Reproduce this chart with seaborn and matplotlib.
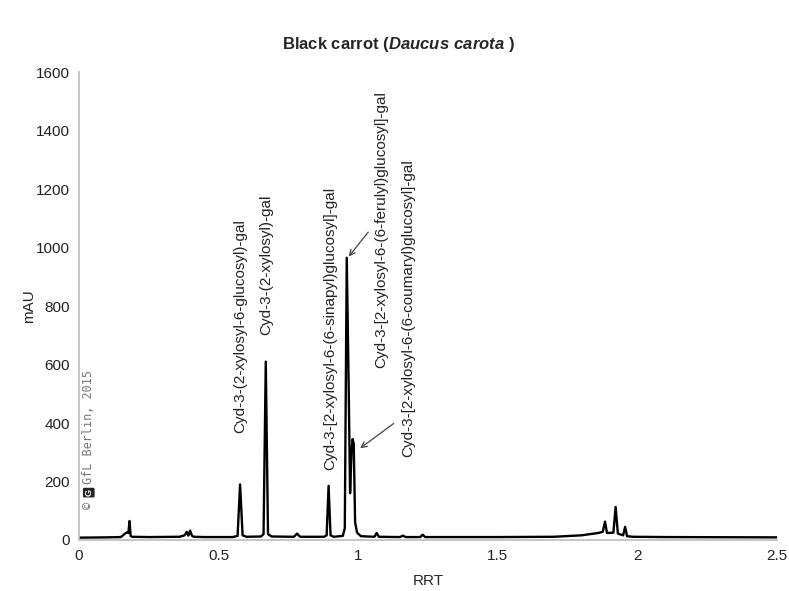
import seaborn as sns
import matplotlib.pyplot as plt
import pandas as pd

# trace (RRT, mAU)
rrt = [0.0, 0.10, 0.150, 0.165, 0.172, 0.177, 0.181, 0.185, 0.190, 0.25, 0.36,
       0.378, 0.386, 0.392, 0.398, 0.405, 0.412, 0.45, 0.55, 0.568, 0.577,
       0.586, 0.60, 0.652, 0.661, 0.669, 0.677, 0.69, 0.77, 0.781, 0.792,
       0.878, 0.887, 0.894, 0.901, 0.912, 0.945, 0.952, 0.959, 0.966, 0.971,
       0.976, 0.980, 0.984, 0.989, 0.996, 1.01, 1.058, 1.066, 1.074, 1.15,
       1.16, 1.17, 1.222, 1.231, 1.24, 1.50, 1.70, 1.80, 1.86, 1.876, 1.884,
       1.891, 1.914, 1.922, 1.930, 1.949, 1.956, 1.963, 1.985, 2.10, 2.50]
mau = [8, 9, 10, 22, 26, 24, 65, 14, 11, 10, 11,
       16, 28, 15, 32, 14, 11, 10, 10, 14, 190,
       16, 11, 12, 20, 610, 20, 12, 11, 22, 11,
       11, 16, 185, 16, 11, 14, 40, 965, 520, 160,
       300, 345, 330, 60, 25, 13, 11, 24, 11, 10,
       15, 10, 10, 18, 10, 10, 11, 16, 24, 28, 63,
       24, 25, 113, 22, 16, 45, 13, 11, 10, 9]

peak_labels = ["Cyd-3-(2-xylosyl-6-glucosyl)-gal",
               "Cyd-3-(2-xylosyl)-gal",
               "Cyd-3-[2-xylosyl-6-(6-sinapyl)glucosyl]-gal",
               "Cyd-3-[2-xylosyl-6-(6-ferulyl)glucosyl]-gal",
               "Cyd-3-[2-xylosyl-6-(6-coumaryl)glucosyl]-gal"]
label_x = [0.577, 0.672, 0.899, 1.084, 1.178]
label_y = [366, 701, 239, 588, 284]

df = pd.DataFrame({"RRT": rrt, "mAU": mau})

sns.set_style("white")
plt.rcParams["font.family"] = ["Liberation Sans", "DejaVu Sans"]
plt.rcParams["mathtext.fontset"] = "custom"
plt.rcParams["mathtext.bfit"] = "Liberation Sans:italic:bold"
plt.rcParams["mathtext.rm"] = "Liberation Sans:bold"

fig = plt.figure(figsize=(7.89, 5.91), dpi=100)
ax = fig.add_axes([0.1001, 0.0863, 0.8847, 0.7917])

sns.lineplot(data=df, x="RRT", y="mAU", sort=False, color="black", lw=1.7, ax=ax)

ax.set_xlim(0, 2.5)
ax.set_ylim(0, 1600)
ax.set_xticks([0, 0.5, 1, 1.5, 2, 2.5])
ax.set_xticklabels(["0", "0.5", "1", "1.5", "2", "2.5"])
ax.set_yticks(range(0, 1601, 200))
ax.tick_params(labelsize=11, colors="#222222", length=4, color="#bbbbbb", width=1, pad=2.5)
for s in ["top", "right"]:
    ax.spines[s].set_visible(False)
for s in ["left", "bottom"]:
    ax.spines[s].set_color("#bbbbbb")
    ax.spines[s].set_linewidth(1.2)
ax.set_xlabel("RRT", fontsize=11, labelpad=8)
ax.set_ylabel("mAU", fontsize=11, labelpad=0)

for t, x, y in zip(peak_labels, label_x, label_y):
    ax.text(x, y, t, rotation=90, ha="center", va="bottom", fontsize=11, color="#222222")

# arrows to the two late peaks
ax.annotate("", xy=(0.960, 962), xytext=(1.042, 1060),
            arrowprops=dict(arrowstyle="->", color="#444444", lw=0.9))
ax.annotate("", xy=(0.999, 308), xytext=(1.135, 404),
            arrowprops=dict(arrowstyle="->", color="#444444", lw=0.9))

# copyright stamp with small logo
ax.text(0.035, 105, "\u00a9", rotation=90, ha="center", va="bottom",
        fontsize=8.5, color="#777777", family="monospace")
ax.text(0.035, 162, "G", rotation=90, ha="center", va="center", fontsize=6.5,
        fontweight="bold", color="white",
        bbox=dict(boxstyle="round,pad=0.15", fc="#222222", ec="none"))
ax.text(0.035, 190, "GfL Berlin, 2015", rotation=90, ha="center", va="bottom",
        fontsize=8.5, color="#777777", family="monospace")

fig.text(0.505, 0.925, r"Black carrot ($\mathbfit{Daucus\ carota}$ )",
         ha="center", va="center", fontsize=12, fontweight="bold")

fig.savefig("out.png", dpi=100)
